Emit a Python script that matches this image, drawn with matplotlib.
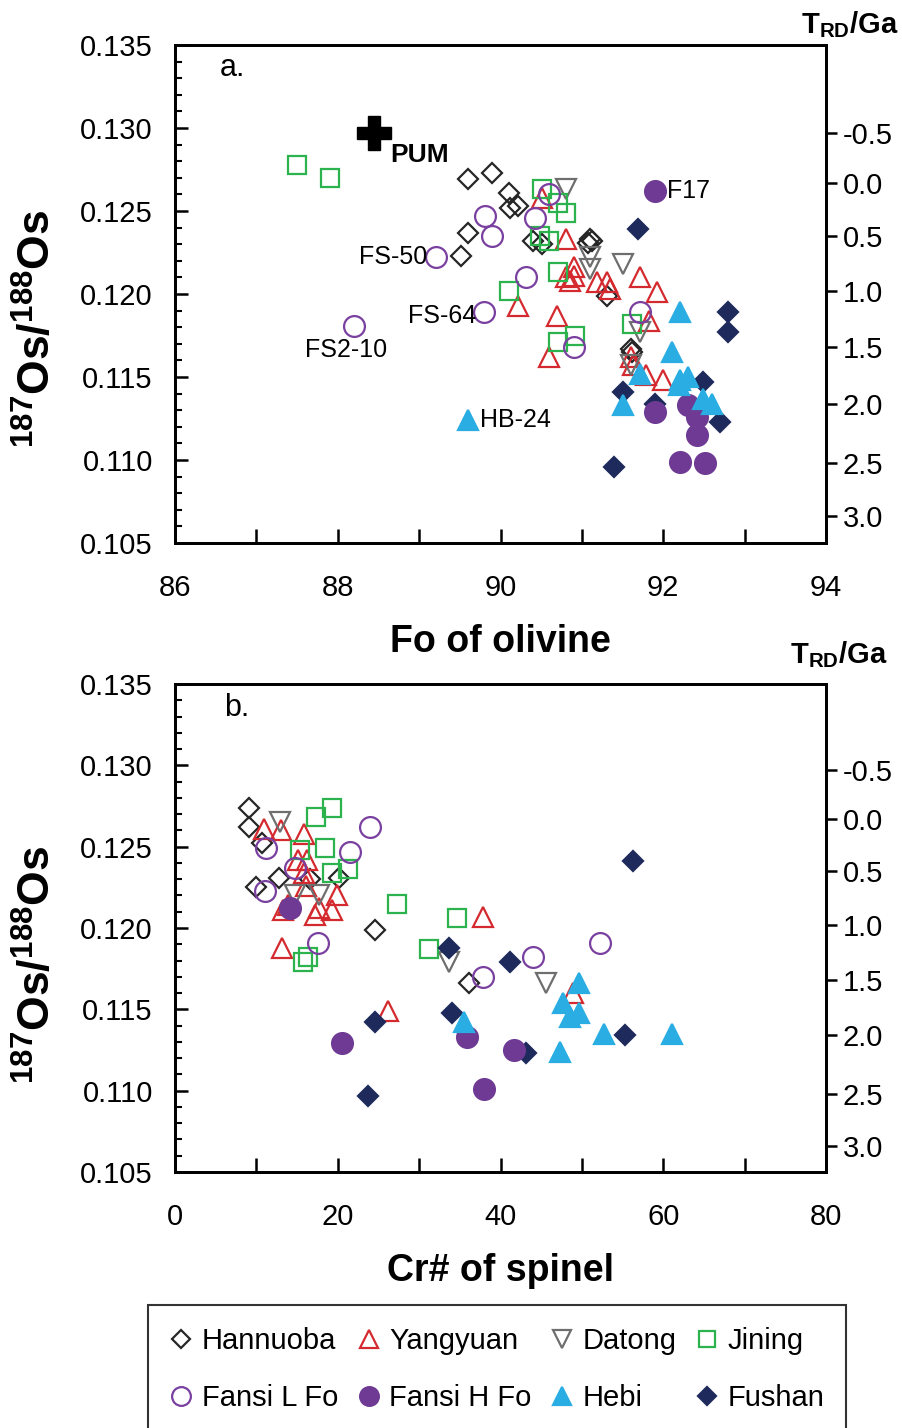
import matplotlib
matplotlib.use('Agg')
import matplotlib.pyplot as plt
from matplotlib.lines import Line2D
from matplotlib import font_manager

avail = {f.name for f in font_manager.fontManager.ttflist}
narrow = 'Liberation Sans Narrow' if 'Liberation Sans Narrow' in avail else 'Liberation Sans'
plt.rcParams['font.family'] = [narrow, 'DejaVu Sans']
plt.rcParams['mathtext.fontset'] = 'custom'
plt.rcParams['mathtext.rm'] = narrow
plt.rcParams['mathtext.bf'] = narrow + ':bold'

# ---------------- data: panel a (Fo of olivine vs 187Os/188Os) ----------------
hannuoba_fo = [89.60, 89.90, 90.10, 90.21, 90.12, 89.60, 89.51, 90.40, 90.51, 91.10, 91.12, 91.08, 91.31, 91.60, 91.62]
hannuoba_os_a = [0.1269, 0.1273, 0.1261, 0.1253, 0.1252, 0.1237, 0.1223, 0.1232, 0.1230, 0.1233, 0.1232, 0.1231, 0.1199, 0.1167, 0.1165]
yangyuan_fo = [90.51, 90.81, 90.90, 90.80, 90.90, 90.85, 91.19, 91.31, 91.35, 90.21, 90.70, 90.60, 91.71, 91.92, 91.82, 91.63, 91.79, 92.00, 91.60]
yangyuan_os_a = [0.1258, 0.1233, 0.1216, 0.1210, 0.1211, 0.1208, 0.1207, 0.1207, 0.1203, 0.1193, 0.1187, 0.1162, 0.1210, 0.1201, 0.1184, 0.1157, 0.1151, 0.1148, 0.1162]
datong_fo = [90.80, 91.10, 91.10, 91.51, 91.72, 91.60]
datong_os_a = [0.1263, 0.1222, 0.1215, 0.1218, 0.1177, 0.1157]
jining_fo = [87.50, 87.91, 90.51, 90.71, 90.81, 90.49, 90.59, 90.71, 90.10, 90.71, 90.91, 91.61]
jining_os_a = [0.1278, 0.1270, 0.1263, 0.1255, 0.1249, 0.1235, 0.1232, 0.1213, 0.1202, 0.1171, 0.1175, 0.1182]
fansiL_fo = [89.81, 89.90, 89.21, 90.42, 90.60, 90.31, 89.80, 88.20, 90.90, 91.72]
fansiL_os_a = [0.1247, 0.1235, 0.1222, 0.1246, 0.1260, 0.1210, 0.1189, 0.1181, 0.1168, 0.1189]
fansiH_fo = [91.90, 91.90, 92.30, 92.41, 92.41, 92.20, 92.51]
fansiH_os_a = [0.1262, 0.1129, 0.1133, 0.1126, 0.1115, 0.1099, 0.1098]
hebi_fo = [92.21, 92.11, 91.71, 92.21, 92.31, 92.19, 92.49, 92.60, 91.51, 89.60]
hebi_os_a = [0.1189, 0.1165, 0.1152, 0.1148, 0.1150, 0.1145, 0.1137, 0.1134, 0.1133, 0.1124]
fushan_fo = [91.69, 92.80, 92.80, 91.51, 91.90, 92.49, 92.70, 91.39]
fushan_os_a = [0.1239, 0.1189, 0.1177, 0.1141, 0.1134, 0.1147, 0.1123, 0.1096]
pum_fo = [88.44]
pum_os = [0.1297]

# ---------------- data: panel b (Cr# of spinel vs 187Os/188Os) ----------------
hannuoba_cr = [9.1, 9.1, 10.7, 12.8, 10.0, 16.6, 20.1, 24.6, 36.1]
hannuoba_os_b = [0.1274, 0.1262, 0.1252, 0.1231, 0.1225, 0.1230, 0.1231, 0.1199, 0.1166]
yangyuan_cr = [10.9, 13.0, 15.8, 15.1, 16.2, 15.8, 16.1, 19.9, 13.9, 13.3, 17.2, 19.3, 17.7, 13.1, 37.8, 26.2, 48.9]
yangyuan_os_b = [0.1261, 0.1260, 0.1258, 0.1242, 0.1242, 0.1234, 0.1226, 0.1220, 0.1214, 0.1211, 0.1208, 0.1211, 0.1212, 0.1188, 0.1207, 0.1149, 0.1160]
datong_cr = [12.9, 14.7, 17.7, 33.7, 45.6]
datong_os_b = [0.1265, 0.1220, 0.1220, 0.1179, 0.1166]
jining_cr = [19.3, 17.3, 18.4, 15.4, 19.3, 21.3, 27.3, 16.3, 15.7, 34.6, 31.2]
jining_os_b = [0.1274, 0.1268, 0.1249, 0.1248, 0.1234, 0.1236, 0.1215, 0.1182, 0.1179, 0.1206, 0.1187]
fansiL_cr = [11.2, 24.0, 21.5, 14.7, 11.1, 17.6, 37.8, 44.0, 52.2]
fansiL_os_b = [0.1249, 0.1262, 0.1247, 0.1237, 0.1223, 0.1191, 0.1170, 0.1182, 0.1191]
fansiH_cr = [14.1, 20.5, 35.9, 41.6, 38.0]
fansiH_os_b = [0.1212, 0.1129, 0.1133, 0.1125, 0.1101]
hebi_cr = [35.5, 49.6, 47.7, 49.6, 48.5, 52.7, 47.3, 61.1]
hebi_os_b = [0.1142, 0.1166, 0.1154, 0.1148, 0.1145, 0.1135, 0.1124, 0.1135]
fushan_cr = [24.6, 23.7, 33.7, 41.2, 34.0, 43.1, 55.3, 56.3]
fushan_os_b = [0.1142, 0.1097, 0.1188, 0.1179, 0.1148, 0.1123, 0.1134, 0.1241]

# right axis: T_RD (Ga) tick positions expressed as 187Os/188Os
trd_labels = ['-0.5', '0.0', '0.5', '1.0', '1.5', '2.0', '2.5', '3.0']
trd_os = [0.1297, 0.1267, 0.1235, 0.1202, 0.1168, 0.1134, 0.1098, 0.1066]

# ---------------- styles ----------------
groups = ['Hannuoba', 'Yangyuan', 'Datong', 'Jining', 'Fansi L Fo', 'Fansi H Fo', 'Hebi', 'Fushan']
style = {
    'Hannuoba':   dict(marker='D', color='#262626', filled=False, ms=10),
    'Yangyuan':   dict(marker='^', color='#d42a2f', filled=False, ms=15),
    'Datong':     dict(marker='v', color='#6e6e6e', filled=False, ms=15),
    'Jining':     dict(marker='s', color='#2db34e', filled=False, ms=13),
    'Fansi L Fo': dict(marker='o', color='#7a40a0', filled=False, ms=15),
    'Fansi H Fo': dict(marker='o', color='#6e3a93', filled=True, ms=15),
    'Hebi':       dict(marker='^', color='#29ade3', filled=True, ms=15),
    'Fushan':     dict(marker='D', color='#1e2a5c', filled=True, ms=10),
}
data_a = {
    'Hannuoba': (hannuoba_fo, hannuoba_os_a), 'Yangyuan': (yangyuan_fo, yangyuan_os_a),
    'Datong': (datong_fo, datong_os_a), 'Jining': (jining_fo, jining_os_a),
    'Fansi L Fo': (fansiL_fo, fansiL_os_a), 'Fansi H Fo': (fansiH_fo, fansiH_os_a),
    'Hebi': (hebi_fo, hebi_os_a), 'Fushan': (fushan_fo, fushan_os_a),
}
data_b = {
    'Hannuoba': (hannuoba_cr, hannuoba_os_b), 'Yangyuan': (yangyuan_cr, yangyuan_os_b),
    'Datong': (datong_cr, datong_os_b), 'Jining': (jining_cr, jining_os_b),
    'Fansi L Fo': (fansiL_cr, fansiL_os_b), 'Fansi H Fo': (fansiH_cr, fansiH_os_b),
    'Hebi': (hebi_cr, hebi_os_b), 'Fushan': (fushan_cr, fushan_os_b),
}

W, H = 902, 1428
fig = plt.figure(figsize=(W / 100, H / 100), dpi=100)

def fig_rect(x0, y0, x1, y1):
    return [x0 / W, 1 - y1 / H, (x1 - x0) / W, (y1 - y0) / H]

def style_axes(ax, xlim, xmaj, xlabels, xlabel, ylab_y):
    ax.set_ylim(0.105, 0.135)
    ax.set_xlim(*xlim)
    ax.set_yticks([0.105, 0.110, 0.115, 0.120, 0.125, 0.130, 0.135])
    ax.set_yticklabels(['0.105', '0.110', '0.115', '0.120', '0.125', '0.130', '0.135'])
    ax.set_yticks([0.105 + 0.001 * i for i in range(31)], minor=True)
    ax.set_xticks(xmaj)
    ax.set_xticklabels(xlabels)
    ax.tick_params(axis='y', which='major', direction='in', length=9, width=1.8, labelsize=21, pad=16, right=False)
    ax.tick_params(axis='y', which='minor', direction='in', length=5, width=1.5, right=False)
    ax.tick_params(axis='x', which='major', direction='in', length=10, width=1.8, labelsize=21, pad=22, top=False)
    for s in ax.spines.values():
        s.set_linewidth(2.0)
    ax.set_xlabel(xlabel, fontsize=27, fontweight='bold', labelpad=16)
    ax.set_ylabel(r'$\mathbf{^{187}Os/^{188}Os}$', fontsize=32)
    ax.yaxis.set_label_coords(-0.177, ylab_y)
    ax2 = ax.twinx()
    ax2.set_ylim(0.105, 0.135)
    ax2.set_yticks(trd_os)
    ax2.set_yticklabels(trd_labels)
    ax2.tick_params(axis='y', direction='out', length=8, width=1.8, labelsize=21, pad=4)
    for s in ax2.spines.values():
        s.set_linewidth(2.0)
    return ax2

def draw(ax, data, order):
    for g in order:
        st = style[g]
        x, y = data[g]
        ax.plot(x, y, linestyle='none', marker=st['marker'], ms=st['ms'],
                markeredgecolor=st['color'],
                markerfacecolor=st['color'] if st['filled'] else 'none',
                markeredgewidth=1.6, zorder=3)

order = ['Hannuoba', 'Yangyuan', 'Datong', 'Jining', 'Fansi L Fo', 'Fushan', 'Fansi H Fo', 'Hebi']

# ---------------- panel a ----------------
axa = fig.add_axes(fig_rect(175, 45, 826, 543))
axa2 = style_axes(axa, (86, 94), list(range(86, 95)),
                  ['86', '', '88', '', '90', '', '92', '', '94'], 'Fo of olivine', 0.43)
draw(axa, data_a, order)
axa.plot(pum_fo, pum_os, linestyle='none', marker='P', ms=25, color='black', zorder=4)
axa.text(88.65, 0.1284, 'PUM', fontsize=19, fontweight='bold', ha='left', va='center')
axa.text(86.55, 0.1336, 'a.', fontsize=22, ha='left', va='center')
axa.text(89.1, 0.1222, 'FS-50', fontsize=18, ha='right', va='center')
axa.text(89.7, 0.1187, 'FS-64', fontsize=18, ha='right', va='center')
axa.text(88.1, 0.1166, 'FS2-10', fontsize=18, ha='center', va='center')
axa.text(89.75, 0.1124, 'HB-24', fontsize=18, ha='left', va='center')
axa.text(92.05, 0.1262, 'F17', fontsize=18, ha='left', va='center')
fig.text(898 / W, 1 - 25 / H, r'$\mathbf{T_{RD}/Ga}$', fontsize=21, ha='right', va='center')

# ---------------- panel b ----------------
axb = fig.add_axes(fig_rect(175, 684, 826, 1172))
axb2 = style_axes(axb, (0, 80), list(range(0, 81, 10)),
                  ['0', '', '20', '', '40', '', '60', '', '80'], 'Cr# of spinel', 0.425)
draw(axb, data_b, order)
axb.text(6.0, 0.1335, 'b.', fontsize=22, ha='left', va='center')
fig.text(887 / W, 1 - 655 / H, r'$\mathbf{T_{RD}/Ga}$', fontsize=21, ha='right', va='center')

# ---------------- legend ----------------
handles = {}
for g in groups:
    st = style[g]
    handles[g] = Line2D([], [], linestyle='none', marker=st['marker'], ms=st['ms'] * 0.9,
                        markeredgecolor=st['color'],
                        markerfacecolor=st['color'] if st['filled'] else 'none',
                        markeredgewidth=1.6)
leg_order = ['Hannuoba', 'Fansi L Fo', 'Yangyuan', 'Fansi H Fo', 'Datong', 'Hebi', 'Jining', 'Fushan']
leg = fig.legend([handles[g] for g in leg_order], leg_order, loc='upper center',
                 bbox_to_anchor=(497 / W, 1 - 1305 / H), ncol=4, fontsize=21,
                 frameon=True, fancybox=False, edgecolor='black', handlelength=0.8,
                 handletextpad=0.3, columnspacing=0.65, borderpad=0.75, labelspacing=1.0,
                 borderaxespad=0)
leg.get_frame().set_linewidth(1.5)

fig.savefig('out.png', dpi=100)
